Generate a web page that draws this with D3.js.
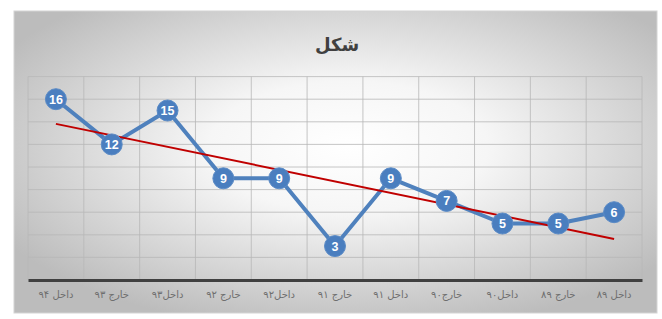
<!DOCTYPE html>
<html>
<head>
<meta charset="utf-8">
<script src="https://cdn.jsdelivr.net/npm/d3@7"></script>
<style>
  body { margin: 0; background: #fff; }
  svg { display: block; }
</style>
</head>
<body>
<div id="chart"></div>
<script>
// categories, left to right as drawn
const categories = ["داخل ۹۴", "خارج ۹۳", "داخل۹۳", "خارج ۹۲", "داخل۹۲", "خارج ۹۱", "داخل ۹۱", "خارج۹۰", "داخل۹۰", "خارج ۸۹", "داخل ۸۹"];
const values = [16, 12, 15, 9, 9, 3, 9, 7, 5, 5, 6];
const yTicks = [0, 2, 4, 6, 8, 10, 12, 14, 16, 18];
const title = "شکل";

const W = 662, H = 319;
const frame = { x: 14, y: 11, w: 643, h: 302 };
const margin = { top: 76.6, right: 20, bottom: 39, left: 28 };

const svg = d3.select("#chart").append("svg")
    .attr("width", W)
    .attr("height", H);

// chart area background: radial gradient, light centre, grey edges
const defs = svg.append("defs");
const grad = defs.append("radialGradient")
    .attr("id", "bg")
    .attr("cx", "52%").attr("cy", "45%")
    .attr("r", "62%");
grad.append("stop").attr("offset", "0%").attr("stop-color", "#ffffff");
grad.append("stop").attr("offset", "35%").attr("stop-color", "#f6f6f6");
grad.append("stop").attr("offset", "100%").attr("stop-color", "#bcbcbc");

svg.append("rect")
    .attr("x", frame.x).attr("y", frame.y)
    .attr("width", frame.w).attr("height", frame.h)
    .attr("fill", "url(#bg)")
    .attr("stroke", "#d4d4d4")
    .attr("stroke-width", 1);

const x = d3.scaleBand()
    .domain(categories)
    .range([margin.left, W - margin.right]);

const y = d3.scaleLinear()
    .domain([0, 18])
    .range([H - margin.bottom, margin.top]);

const g = svg.append("g");

// horizontal gridlines
g.selectAll(".hgrid")
    .data(yTicks.slice(1))
    .join("line")
    .attr("class", "hgrid")
    .attr("x1", x.range()[0])
    .attr("x2", x.range()[1])
    .attr("y1", d => y(d))
    .attr("y2", d => y(d))
    .attr("stroke", "#b8b8b8")
    .attr("stroke-width", 0.8);

// vertical gridlines at band edges
const edges = categories.map(c => x(c)).concat([x.range()[1]]);
g.selectAll(".vgrid")
    .data(edges)
    .join("line")
    .attr("class", "vgrid")
    .attr("x1", d => d).attr("x2", d => d)
    .attr("y1", y(18)).attr("y2", y(0))
    .attr("stroke", "#b8b8b8")
    .attr("stroke-width", 0.8);

// category axis
const xAxis = g.append("g")
    .attr("transform", `translate(0,${y(0)})`)
    .call(d3.axisBottom(x).tickSize(0).tickPadding(11));
xAxis.select(".domain")
    .attr("stroke", "#404040")
    .attr("stroke-width", 3);
xAxis.selectAll("text")
    .attr("font-family", "'DejaVu Sans', sans-serif")
    .attr("font-size", 10)
    .attr("fill", "#6e6e6e")
    .attr("direction", "rtl");

// title
svg.append("text")
    .attr("x", 337)
    .attr("y", 51)
    .attr("text-anchor", "middle")
    .attr("font-family", "'DejaVu Sans', sans-serif")
    .attr("font-weight", "bold")
    .attr("font-size", 18)
    .attr("fill", "#404040")
    .text(title);

const cx = d => x(d) + x.bandwidth() / 2;

// data line
const line = d3.line()
    .x((d, i) => cx(categories[i]))
    .y(d => y(d));

g.append("path")
    .datum(values)
    .attr("fill", "none")
    .attr("stroke", "#4f81bd")
    .attr("stroke-width", 4)
    .attr("stroke-linejoin", "round")
    .attr("d", line);

// linear trendline (least squares over category index)
const idx = values.map((_, i) => i + 1);
const mx = d3.mean(idx), my = d3.mean(values);
const slope = d3.sum(idx, (xi, i) => (xi - mx) * (values[i] - my)) / d3.sum(idx, xi => (xi - mx) ** 2);
const icpt = my - slope * mx;
const trend = [0, categories.length - 1].map(i => ({ c: categories[i], v: icpt + slope * (i + 1) }));

g.append("path")
    .datum(trend)
    .attr("fill", "none")
    .attr("stroke", "#c00000")
    .attr("stroke-width", 2)
    .attr("d", d3.line().x(d => cx(d.c)).y(d => y(d.v)));

// markers
const pts = g.selectAll(".pt")
    .data(values)
    .join("g")
    .attr("class", "pt")
    .attr("transform", (d, i) => `translate(${cx(categories[i])},${y(d)})`);

pts.append("circle")
    .attr("r", 10.5)
    .attr("fill", "#4a7ebf")
    .attr("stroke", "#5b8bc6")
    .attr("stroke-width", 1);

pts.append("text")
    .attr("text-anchor", "middle")
    .attr("dy", "0.36em")
    .attr("font-family", "'Liberation Sans Narrow', 'Liberation Sans', sans-serif")
    .attr("font-weight", "bold")
    .attr("font-size", 12.5)
    .attr("fill", "#ffffff")
    .text(d => d);
</script>
</body>
</html>
